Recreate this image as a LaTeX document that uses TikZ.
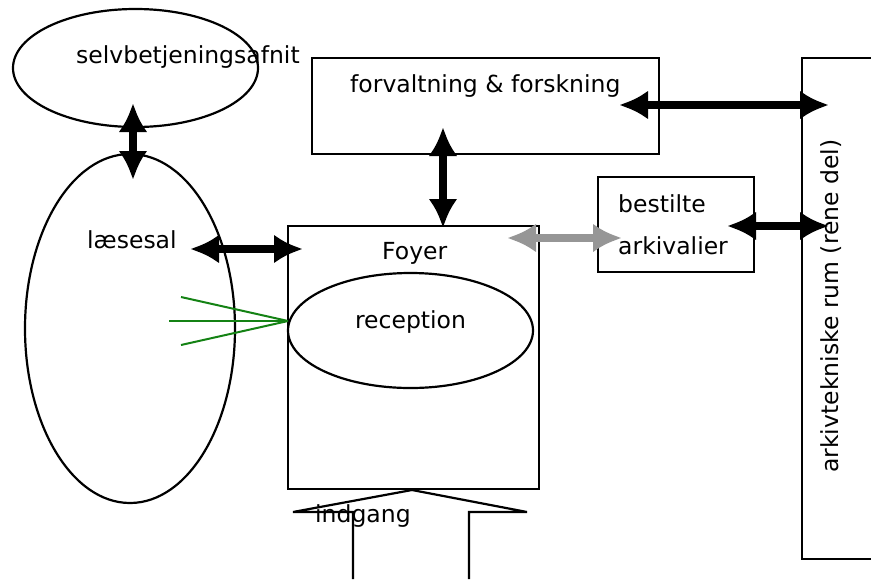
\documentclass[tikz,border=0pt]{standalone}
\usepackage{fontspec}
\setmainfont{DejaVu Sans}
\usetikzlibrary{arrows.meta,shapes.geometric}
\definecolor{linkgray}{RGB}{150,150,150}
\definecolor{viewgreen}{RGB}{20,130,20}
\tikzset{
  outline/.style={draw=black,line width=2.2pt},
  roombox/.style={outline,rectangle,inner sep=0pt},
  roomoval/.style={outline,ellipse,inner sep=0pt},
  lbl/.style={inner sep=0pt,font=\fontsize{23.5}{28}\selectfont},
  flow/.style={line width=8.5pt,{Latex[length=29pt,width=29pt]}-{Latex[length=29pt,width=29pt]}},
  greyflow/.style={flow,draw=linkgray},
  sightline/.style={draw=viewgreen,line width=2pt},
}
\begin{document}
\begin{tikzpicture}[x=1pt,y=-1pt]
\useasboundingbox (0,0) rectangle (871,579);

% rooms
\node[roomoval,minimum width=245pt,minimum height=118pt] (selv) at (135.5,68) {};
\node[roomoval,minimum width=210pt,minimum height=349pt] (laese) at (130,328.5) {};
\node[roombox,minimum width=347pt,minimum height=96pt] (forv) at (485.5,106) {};
\node[roombox,minimum width=251pt,minimum height=263pt] (foyer) at (413.5,357.5) {};
\node[roomoval,minimum width=245pt,minimum height=115pt] (recep) at (410.5,330.5) {};
\node[roombox,minimum width=156pt,minimum height=95pt] (best) at (676,224.5) {};
% archive store, open to the right
\draw[outline] (871,58) -- (802,58) -- (802,559) -- (871,559);

% labels
\node[lbl,anchor=base west] (tselv) at (76,63) {selvbetjeningsafnit};
\node[lbl,anchor=base west] (tforv) at (350,92) {forvaltning \& forskning};
\node[lbl,anchor=base west] (tlaese) at (87,248) {læsesal};
\node[lbl,anchor=base west] (tfoyer) at (382,259) {Foyer};
\node[lbl,anchor=base] (trecep) at (410.5,328) {reception};
\node[lbl,anchor=base west] (tbest) at (618,212) {bestilte};
\node[lbl,anchor=base west] (tarkv) at (618,254) {arkivalier};
\node[lbl,anchor=base west] (tind) at (315,522) {indgang};
\node[lbl,anchor=base,rotate=90] (tark) at (838,306) {arkivtekniske rum (rene del)};

% connector end points
\coordinate (a1) at (133,103);
\coordinate (a2) at (133,180);
\coordinate (b1) at (190,249);
\coordinate (b2) at (303,249);
\coordinate (c1) at (443,127);
\coordinate (c2) at (443,228);
\coordinate (d1) at (619,105);
\coordinate (d2) at (829,105);
\coordinate (e1) at (727,226);
\coordinate (e2) at (829,226);
\coordinate (g1) at (507,238);
\coordinate (g2) at (622,238);

% flows between rooms
\draw[flow] (a1) -- (a2);
\draw[flow] (b1) -- (b2);
\draw[flow] (c1) -- (c2);
\draw[flow] (d1) -- (d2);
\draw[flow] (e1) -- (e2);
\draw[greyflow] (g1) -- (g2);

% view lines from the reception desk
\coordinate (v0) at (288,321);
\coordinate (v1) at (181,297);
\coordinate (v2) at (169,321);
\coordinate (v3) at (181,345);
\draw[sightline] (v0) -- (v1);
\draw[sightline] (v0) -- (v2);
\draw[sightline] (v0) -- (v3);

% entrance arrow
\draw[outline,line join=miter] (353,579) -- (353,512) -- (293,512) -- (412,490)
  -- (527,512) -- (469,512) -- (469,579);
\end{tikzpicture}
\end{document}
